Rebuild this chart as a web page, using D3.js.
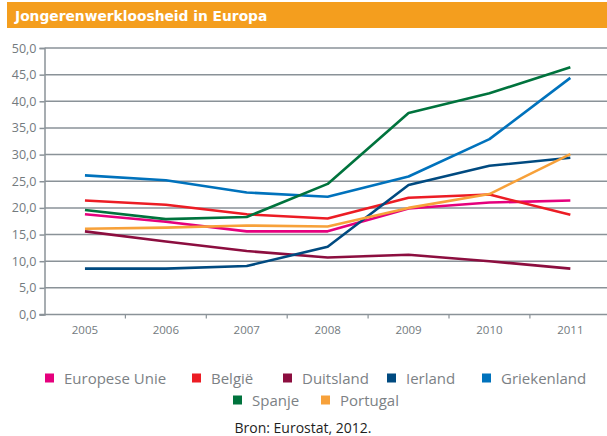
<!DOCTYPE html>
<html><head><meta charset="utf-8">
<script src="https://cdn.jsdelivr.net/npm/d3@7/dist/d3.min.js"></script>
<style>body{margin:0;background:#fff;} svg{display:block;}</style>
</head><body>
<script>
const years = ["2005","2006","2007","2008","2009","2010","2011"];
const seriesNames = ["Europese Unie","België","Duitsland","Ierland","Griekenland","Spanje","Portugal"];
const seriesColors = ["#e5007d","#ec1c24","#8c0e3f","#004a80","#0072bc","#00733d","#f7a13a"];
const euValues = [18.8,17.4,15.6,15.6,19.9,21.0,21.4];
const belgieValues = [21.4,20.6,18.8,18.0,21.9,22.5,18.7];
const duitslandValues = [15.6,13.7,11.9,10.7,11.2,10.0,8.6];
const ierlandValues = [8.6,8.6,9.1,12.7,24.3,27.9,29.4];
const griekenlandValues = [26.1,25.2,22.9,22.1,25.9,32.9,44.4];
const spanjeValues = [19.6,17.9,18.3,24.5,37.8,41.5,46.4];
const portugalValues = [16.1,16.3,16.7,16.5,20.0,22.6,30.1];
const yTicks = [0,5,10,15,20,25,30,35,40,45,50];
const titleText = "Jongerenwerkloosheid in Europa";
const sourceText = "Bron: Eurostat, 2012.";

const allValues = [euValues,belgieValues,duitslandValues,ierlandValues,griekenlandValues,spanjeValues,portugalValues];
const series = seriesNames.map((n,i)=>({name:n,color:seriesColors[i],values:allValues[i]}));

const W=607,H=436;
const svg=d3.select("body").append("svg").attr("width",W).attr("height",H);

// title bar
svg.append("rect").attr("x",7).attr("y",2).attr("width",W-7).attr("height",26).attr("fill","#f49e1e");
svg.append("text").attr("x",15).attr("y",20.5).text(titleText)
  .attr("font-family","DejaVu Sans").attr("font-weight","bold").attr("font-size",13.8).attr("fill","#fff");

const left=44.5, bandW=80.9;
const x=d3.scaleBand().domain(years).range([left,left+bandW*years.length]).padding(0);
const y=d3.scaleLinear().domain([0,50]).range([314.5,48]);
const gridColor="#8a9298";

// gridlines
svg.append("g").selectAll("line").data(yTicks.filter(d=>d>0)).join("line")
  .attr("x1",left).attr("x2",W).attr("y1",d=>y(d)).attr("y2",d=>y(d))
  .attr("stroke",gridColor).attr("stroke-width",1.5);

// y axis
const yAxis=svg.append("g").attr("transform",`translate(${left},0)`)
  .call(d3.axisLeft(y).tickValues(yTicks).tickSize(5).tickFormat(d=>d3.format(".1f")(d).replace(".",",")));
yAxis.select(".domain").attr("stroke",gridColor).attr("stroke-width",1.5);
yAxis.selectAll(".tick line").attr("stroke",gridColor).attr("stroke-width",1.5);
yAxis.selectAll("text").attr("font-family","Open Sans").attr("font-size",12.5).attr("fill","#737a7e").attr("x",-8);

// x axis baseline
svg.append("line").attr("x1",left-5).attr("x2",W).attr("y1",y(0)).attr("y2",y(0))
  .attr("stroke",gridColor).attr("stroke-width",1.5);
const xAxis=svg.append("g").attr("transform",`translate(0,${y(0)})`)
  .call(d3.axisBottom(x).tickSize(0).tickPadding(11));
xAxis.select(".domain").remove();
xAxis.selectAll("text").attr("font-family","Open Sans").attr("font-size",11.5).attr("fill","#737a7e");
// boundary ticks
svg.append("g").selectAll("line").data(years.slice(1)).join("line")
  .attr("x1",d=>x(d)).attr("x2",d=>x(d)).attr("y1",y(0)).attr("y2",y(0)+4)
  .attr("stroke",gridColor).attr("stroke-width",1.2);

// lines
const line=d3.line().x((d,i)=>x(years[i])+x.bandwidth()/2).y(d=>y(d));
svg.append("g").selectAll("path").data(series).join("path")
  .attr("d",d=>line(d.values)).attr("fill","none").attr("stroke",d=>d.color)
  .attr("stroke-width",2.6).attr("stroke-linejoin","round");

// legend
const legendPos=[[45,378],[192,378],[283,378],[387,378],[482,378],[233,400],[321,400]];
const lg=svg.append("g").selectAll("g").data(series).join("g")
  .attr("transform",(d,i)=>`translate(${legendPos[i][0]},${legendPos[i][1]})`);
lg.append("rect").attr("x",0).attr("y",-4.5).attr("width",9).attr("height",9).attr("fill",d=>d.color);
lg.append("text").attr("x",19).attr("y",5.5).text(d=>d.name)
  .attr("font-family","Open Sans").attr("font-size",15).attr("fill","#7c8185");

svg.append("text").attr("x",303).attr("y",433).attr("text-anchor","middle").text(sourceText)
  .attr("font-family","Open Sans").attr("font-size",14).attr("fill","#1e1e1e");
</script>
</body></html>
